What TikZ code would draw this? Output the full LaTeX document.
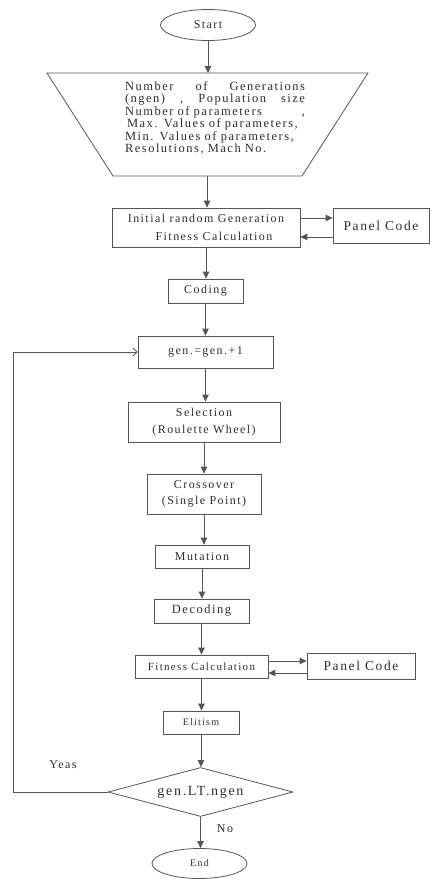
\documentclass[tikz,border=0pt]{standalone}
\usepackage{fontspec}
\setmainfont{Liberation Serif}[LetterSpace=12]
\usetikzlibrary{arrows.meta,shapes.geometric}
\definecolor{ln}{HTML}{555555}
\definecolor{tx}{HTML}{2E2E2E}
\newcommand{\fs}[1]{\fontsize{#1}{#1}\selectfont}
\begin{document}
\begin{tikzpicture}[x=1pt,y=-1pt,
  every node/.style={text=tx,inner sep=0pt},
  bx/.style 2 args={draw=ln,line width=0.8pt,minimum width=#1,minimum height=#2,align=center},
  ell/.style 2 args={ellipse,draw=ln,line width=0.8pt,minimum width=#1,minimum height=#2},
  arr/.style={draw=ln,line width=0.9pt,-{Triangle[length=7pt,width=6.5pt]}},
  fb/.style={draw=ln,line width=0.9pt,-{Straight Barb[length=4pt,width=8pt]}}]
\useasboundingbox (0,0) rectangle (433,879);
% start
\node[ell={95}{31},font=\fs{12}] (start) at (208,25) {Start};
% trapezoid
\coordinate (ptl) at (47,73);
\coordinate (ptr) at (368,73);
\coordinate (pbr) at (302,176);
\coordinate (pbl) at (113,176);
\coordinate (ptop) at (208,73);
\coordinate (pbot) at (207,176);
\draw[ln,line width=0.8pt] (ptl) -- (ptr) -- (pbr) -- (pbl) -- cycle;
\node[font=\fontsize{12.5}{12.5}\selectfont,text width=180pt,align=left] (params) at (215,118)
 {Number\hfill of\hfill Generations\\
  (ngen)\hfill,\hfill Population\hfill size\\
  Number of parameters\hfill ,\\
  \hspace*{2pt}Max. Values of parameters,\\
  Min. Values of parameters,\\
  Resolutions, Mach No.};
% init
\node[bx={188}{39},font=\fs{12},align=center] (init) at (206,227.5)
 {Initial random Generation\\[6pt]\hspace*{16pt}Fitness Calculation};
\node[bx={96}{35},font=\fs{13.5}] (panel1) at (381,225.5) {Panel Code};
\coordinate (y1a) at (0,218);
\coordinate (y1b) at (0,237);
\draw[arr] (init.east |- y1a) -- (panel1.west |- y1a);
\draw[arr] (panel1.west |- y1b) -- (init.east |- y1b);
% coding etc
\node[bx={75}{24},font=\fs{12}] (coding) at (205.5,291) {Coding};
\node[bx={135}{32},font=\fs{12}] (gen) at (205.5,352) {gen.=gen.+1};
\node[bx={152}{40},font=\fs{12}] (sel) at (204,422) {Selection\\[5pt](Roulette Wheel)};
\node[bx={114}{40},font=\fs{12}] (cross) at (204,494) {Crossover\\[4pt](Single Point)};
\node[bx={94}{23},font=\fs{12}] (mut) at (202,556.5) {Mutation};
\node[bx={95}{24},font=\fs{12.5}] (dec) at (201.5,611) {Decoding};
\node[bx={133}{23},font=\fs{11}] (fit) at (201.5,666.5) {Fitness Calculation};
\node[bx={108}{26},font=\fs{13.5}] (panel2) at (361,666) {Panel Code};
\coordinate (y2a) at (0,661);
\coordinate (y2b) at (0,673);
\draw[arr] (fit.east |- y2a) -- (panel2.west |- y2a);
\draw[arr] (panel2.west |- y2b) -- (fit.east |- y2b);
\node[bx={76}{23},font=\fs{10}] (elit) at (201,722.5) {Elitism};
\node[diamond,draw=ln,line width=0.8pt,aspect=3.78,minimum width=185pt,minimum height=49pt,font=\fs{14}] (dia) at (200.5,792) {gen.LT.ngen};
\node[ell={95}{30},font=\fs{10}] (end) at (199.5,863.5) {End};
\node[font=\fs{12}] (yeas) at (63,765) {Yeas};
\node[font=\fs{12}] (no) at (225,829) {No};
% main arrows
\draw[arr] (start.south) -- (start.south |- ptop);
\draw[arr] (pbot) -- (pbot |- init.north);
\draw[arr] (init.south) -- (init.south |- coding.north);
\draw[arr] (coding.south) -- (coding.south |- gen.north);
\draw[arr] (gen.south) -- (gen.south |- sel.north);
\draw[arr] (sel.south) -- (sel.south |- cross.north);
\draw[arr] (cross.south) -- (cross.south |- mut.north);
\draw[arr] (mut.south) -- (mut.south |- dec.north);
\draw[arr] (dec.south) -- (dec.south |- fit.north);
\draw[arr] (fit.south) -- (fit.south |- elit.north);
\draw[arr] (elit.south) -- (elit.south |- dia.north);
\draw[arr] (dia.south) -- (dia.south |- end.north);
% feedback
\coordinate (lx) at (13,0);
\draw[fb] (dia.west) -- (dia.west -| lx) |- (gen.west);
\end{tikzpicture}
\end{document}
